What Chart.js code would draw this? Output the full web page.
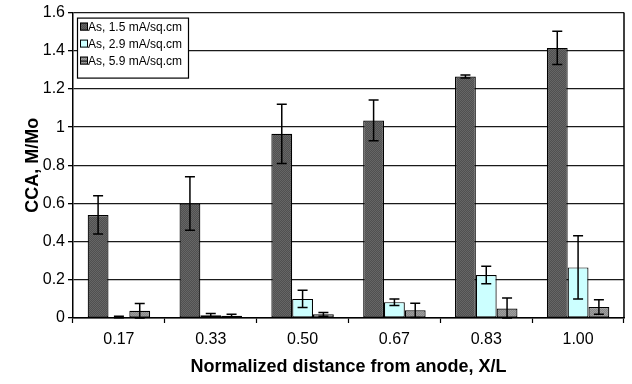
<!DOCTYPE html>
<html>
<head>
<meta charset="utf-8">
<script src="https://cdn.jsdelivr.net/npm/chart.js@4"></script>
<style>
  html, body { margin: 0; padding: 0; background: #fff; }
  #wrap { width: 632px; height: 384px; }
</style>
</head>
<body>
<div id="wrap"><canvas id="c" width="632" height="384"></canvas></div>
<script>
// Normalized distance from the anode
const categories = ['0.17', '0.33', '0.50', '0.67', '0.83', '1.00'];

// Series names
const seriesLabels = ['As, 1.5 mA/sq.cm', 'As, 2.9 mA/sq.cm', 'As, 5.9 mA/sq.cm'];

// CCA (M/Mo) per current density
const as15 = [0.54, 0.60, 0.965, 1.035, 1.265, 1.415];
const as29 = [0.005, 0.015, 0.10, 0.083, 0.225, 0.265];
const as59 = [0.038, 0.012, 0.019, 0.04, 0.05, 0.058];

// Error bar half-widths
const as15Err = [0.10, 0.14, 0.155, 0.107, 0.008, 0.087];
const as29Err = [0.004, 0.008, 0.045, 0.017, 0.046, 0.166];
const as59Err = [0.038, 0.008, 0.01, 0.037, 0.055, 0.038];

// Y-axis tick values
const yTicks = [0, 0.2, 0.4, 0.6, 0.8, 1, 1.2, 1.4, 1.6];

const FONT = '"Liberation Sans", Arial, sans-serif';

// Small stippled fill patterns
function stipple(c1, c2) {
  const p = document.createElement('canvas');
  p.width = 2; p.height = 2;
  const g = p.getContext('2d');
  g.fillStyle = c1; g.fillRect(0, 0, 2, 2);
  g.fillStyle = c2; g.fillRect(0, 0, 1, 1); g.fillRect(1, 1, 1, 1);
  return g.createPattern(p, 'repeat');
}
const ctx = document.getElementById('c').getContext('2d');
const darkFill = stipple('#505050', '#666666');
const cyanFill = '#ccffff';
const grayFill = stipple('#888888', '#9e9e9e');

const fills = [darkFill, cyanFill, grayFill];
const errors = [as15Err, as29Err, as59Err];

// Error bars drawn over each bar through the scales
const errorBars = {
  id: 'errorBars',
  afterDatasetsDraw(chart) {
    const g = chart.ctx;
    const ys = chart.scales.y;
    g.save();
    g.strokeStyle = '#000';
    g.lineWidth = 1.5;
    chart.data.datasets.forEach((ds, di) => {
      const meta = chart.getDatasetMeta(di);
      meta.data.forEach((bar, i) => {
        const v = ds.data[i], e = errors[di][i];
        const yHi = ys.getPixelForValue(v + e);
        const yLo = ys.getPixelForValue(Math.max(0, v - e));
        const x = bar.x;
        g.beginPath();
        g.moveTo(x, yHi); g.lineTo(x, yLo);
        g.moveTo(x - 5, yHi); g.lineTo(x + 5, yHi);
        g.moveTo(x - 5, yLo); g.lineTo(x + 5, yLo);
        g.stroke();
      });
    });
    g.restore();
  }
};

// Right frame line and boxed legend inside the plot
const frameAndLegend = {
  id: 'frameAndLegend',
  afterDraw(chart) {
    const g = chart.ctx;
    const a = chart.chartArea;
    g.save();
    g.strokeStyle = '#000';
    g.lineWidth = 1.5;
    g.beginPath();
    g.moveTo(a.right, a.top); g.lineTo(a.right, a.bottom);
    g.stroke();

    const bx = a.left + 4, by = a.top + 5, bw = 111, bh = 60;
    g.fillStyle = '#fff';
    g.fillRect(bx, by, bw, bh);
    g.lineWidth = 1.2;
    g.strokeRect(bx + 0.5, by + 0.5, bw, bh);
    g.font = '12px ' + FONT;
    g.textBaseline = 'middle';
    chart.data.datasets.forEach((ds, i) => {
      const cy = by + 9 + i * 17;
      g.fillStyle = fills[i];
      g.fillRect(bx + 3, cy - 4, 8, 8);
      g.lineWidth = 1;
      g.strokeStyle = '#000';
      g.strokeRect(bx + 3.5, cy - 3.5, 7, 7);
      if (i === 2) {
        g.beginPath(); g.moveTo(bx + 4, cy + 0.5); g.lineTo(bx + 10, cy + 0.5); g.stroke();
      }
      g.fillStyle = '#000';
      g.fillText(ds.label, bx + 11, cy + 1);
    });
    g.restore();
  }
};

const datasets = [as15, as29, as59].map((vals, i) => ({
  label: seriesLabels[i],
  data: vals,
  backgroundColor: fills[i],
  borderColor: '#000',
  borderWidth: 1.2,
  borderSkipped: false,
  categoryPercentage: 0.68,
  barPercentage: 1.0
}));

new Chart(ctx, {
  type: 'bar',
  data: { labels: categories, datasets },
  plugins: [errorBars, frameAndLegend],
  options: {
    responsive: false,
    animation: false,
    devicePixelRatio: 1,
    layout: { padding: { top: 12, right: 8, left: 0, bottom: 0 } },
    plugins: { legend: { display: false }, tooltip: { enabled: false } },
    scales: {
      x: {
        offset: true,
        grid: {
          offset: true,
          drawOnChartArea: false,
          drawTicks: true,
          tickLength: 5,
          tickColor: '#000',
          tickWidth: 1.2
        },
        border: { color: '#000', width: 1.5 },
        ticks: {
          color: '#000',
          padding: 7,
          font: { family: FONT, size: 16 }
        },
        title: {
          display: true,
          text: 'Normalized distance from anode, X/L',
          color: '#000',
          padding: { bottom: 6 },
          font: { family: FONT, size: 18, weight: 'bold' }
        },
        afterFit(s) { s.height = 66; }
      },
      y: {
        min: 0,
        max: 1.6,
        afterBuildTicks(s) { s.ticks = yTicks.map(v => ({ value: v })); },
        grid: {
          color: '#1a1a1a',
          lineWidth: 1.3,
          drawTicks: true,
          tickLength: 5,
          tickColor: '#000'
        },
        border: { color: '#000', width: 1.5 },
        ticks: {
          color: '#000',
          padding: 3,
          font: { family: FONT, size: 16 },
          callback: v => String(v)
        },
        title: {
          display: true,
          text: 'CCA, M/Mo',
          color: '#000',
          padding: { top: 22 },
          font: { family: FONT, size: 18, weight: 'bold' }
        },
        afterFit(s) { s.width = 73; }
      }
    }
  }
});
</script>
</body>
</html>
